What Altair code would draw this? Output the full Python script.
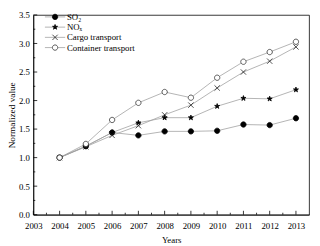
import altair as alt
import pandas as pd

years = [2004, 2005, 2006, 2007, 2008, 2009, 2010, 2011, 2012, 2013]
so2 = [1.0, 1.20, 1.44, 1.39, 1.46, 1.46, 1.47, 1.58, 1.57, 1.69]
nox = [1.0, 1.20, 1.44, 1.61, 1.70, 1.70, 1.90, 2.04, 2.03, 2.19]
cargo = [1.0, 1.19, 1.39, 1.56, 1.75, 1.92, 2.22, 2.50, 2.69, 2.94]
container = [1.0, 1.24, 1.66, 1.96, 2.15, 2.05, 2.40, 2.68, 2.85, 3.03]
series_names = ["SO₂", "NOₓ", "Cargo transport", "Container transport"]

x_ticks = list(range(2003, 2014))
x_minor = [y + 0.5 for y in range(2003, 2013)]
y_ticks = [0.0, 0.5, 1.0, 1.5, 2.0, 2.5, 3.0, 3.5]
y_minor = [0.25, 0.75, 1.25, 1.75, 2.25, 2.75, 3.25]

line_names = [n + " " for n in series_names]
rows = []
for name, lname, vals in zip(series_names, line_names, [so2, nox, cargo, container]):
    for yr, v in zip(years, vals):
        rows.append({"year": yr, "value": v, "series": lname, "series2": name})
df = pd.DataFrame(rows)

W, H = 283, 205
FONT = "Liberation Serif"

CIRCLE = "M1,0A1,1 0 1,1 -1,0A1,1 0 1,1 1,0Z"
STAR = ("M0,-1L0.223,-0.307L0.951,-0.309L0.361,0.117L0.588,0.809L0,0.38"
        "L-0.588,0.809L-0.361,0.117L-0.951,-0.309L-0.223,-0.307Z")
CROSS = "M-1,-1L1,1M-1,1L1,-1"
LEGLINE = "M-3.8,0H3.8"

xs = alt.Scale(domain=[2003, 2013.5], nice=False, zero=False)
ys = alt.Scale(domain=[0, 3.5], nice=False)

X_AXIS = alt.Axis(values=x_ticks, format="d", tickSize=0, labelPadding=7, labelOverlap=False,
                  labelFlush=False, title="Years", titlePadding=6, domainColor="black", grid=False)
Y_AXIS = alt.Axis(values=y_ticks, format=".1f", tickSize=0, labelPadding=4, labelOverlap=False,
                  labelFlush=False, title="Normalized value", titleFontSize=9.5, titlePadding=2,
                  domainColor="black", grid=False)

LX, LY = 17.8, -2.5
common_leg = dict(orient="none", legendX=LX, legendY=LY, title=None, symbolSize=30,
                  labelFontSize=9, labelFont=FONT, rowPadding=0.5, padding=0,
                  symbolStrokeWidth=0.8, labelOffset=7.7)

lines = alt.Chart(df).mark_line(strokeWidth=0.8).encode(
    x=alt.X("year:Q", scale=xs, axis=X_AXIS),
    y=alt.Y("value:Q", scale=ys, axis=Y_AXIS),
    color=alt.Color("series:N", scale=alt.Scale(domain=line_names, range=["#a0a0a0"] * 4),
                    legend=alt.Legend(symbolType=LEGLINE, labelExpr="'\u00a0'", **common_leg)),
    detail="series:N",
)

leg2 = dict(labelColor="black", **common_leg)

points = alt.Chart(df).mark_point(size=30, strokeWidth=0.8, opacity=1).encode(
    x=alt.X("year:Q", scale=xs, axis=X_AXIS),
    y=alt.Y("value:Q", scale=ys, axis=Y_AXIS),
    shape=alt.Shape("series2:N", scale=alt.Scale(domain=series_names, range=[CIRCLE, STAR, CROSS, CIRCLE]),
                    legend=alt.Legend(**leg2)),
    fill=alt.Fill("series2:N", scale=alt.Scale(domain=series_names, range=["black", "black", "transparent", "white"]),
                  legend=alt.Legend(**leg2)),
    stroke=alt.Stroke("series2:N", scale=alt.Scale(domain=series_names, range=["black", "black", "#222222", "#333333"]),
                      legend=alt.Legend(**leg2)),
)

xt_major = pd.DataFrame({"t": x_ticks})
xt_minor = pd.DataFrame({"t": x_minor})
yt_major = pd.DataFrame({"t": y_ticks})
yt_minor = pd.DataFrame({"t": y_minor})

def xtick(d, L):
    return alt.Chart(d).mark_rule(color="black", strokeWidth=0.8).encode(
        x=alt.X("t:Q", scale=xs, axis=X_AXIS), y=alt.value(H), y2=alt.value(H - L))

def ytick(d, L):
    return alt.Chart(d).mark_rule(color="black", strokeWidth=0.8).encode(
        y=alt.Y("t:Q", scale=ys, axis=Y_AXIS), x=alt.value(0), x2=alt.value(L))

chart = alt.layer(
    lines, points, xtick(xt_major, 4), xtick(xt_minor, 2), ytick(yt_major, 4), ytick(yt_minor, 2)
).properties(
    width=W, height=H,
    background="white",
    autosize=alt.AutoSizeParams(type="none"),
    padding={"left": 26, "top": 4, "right": 3, "bottom": 29},
).configure_view(stroke="black", strokeWidth=0.8).configure_axis(
    labelFont=FONT, titleFont=FONT, labelFontSize=9, titleFontSize=9,
    titleFontWeight="normal", labelColor="black", titleColor="black",
    domainWidth=0.8, tickWidth=0.8, labelOverlap=False
)

chart.save("out.html", embed_options={"renderer": "svg", "actions": False})
